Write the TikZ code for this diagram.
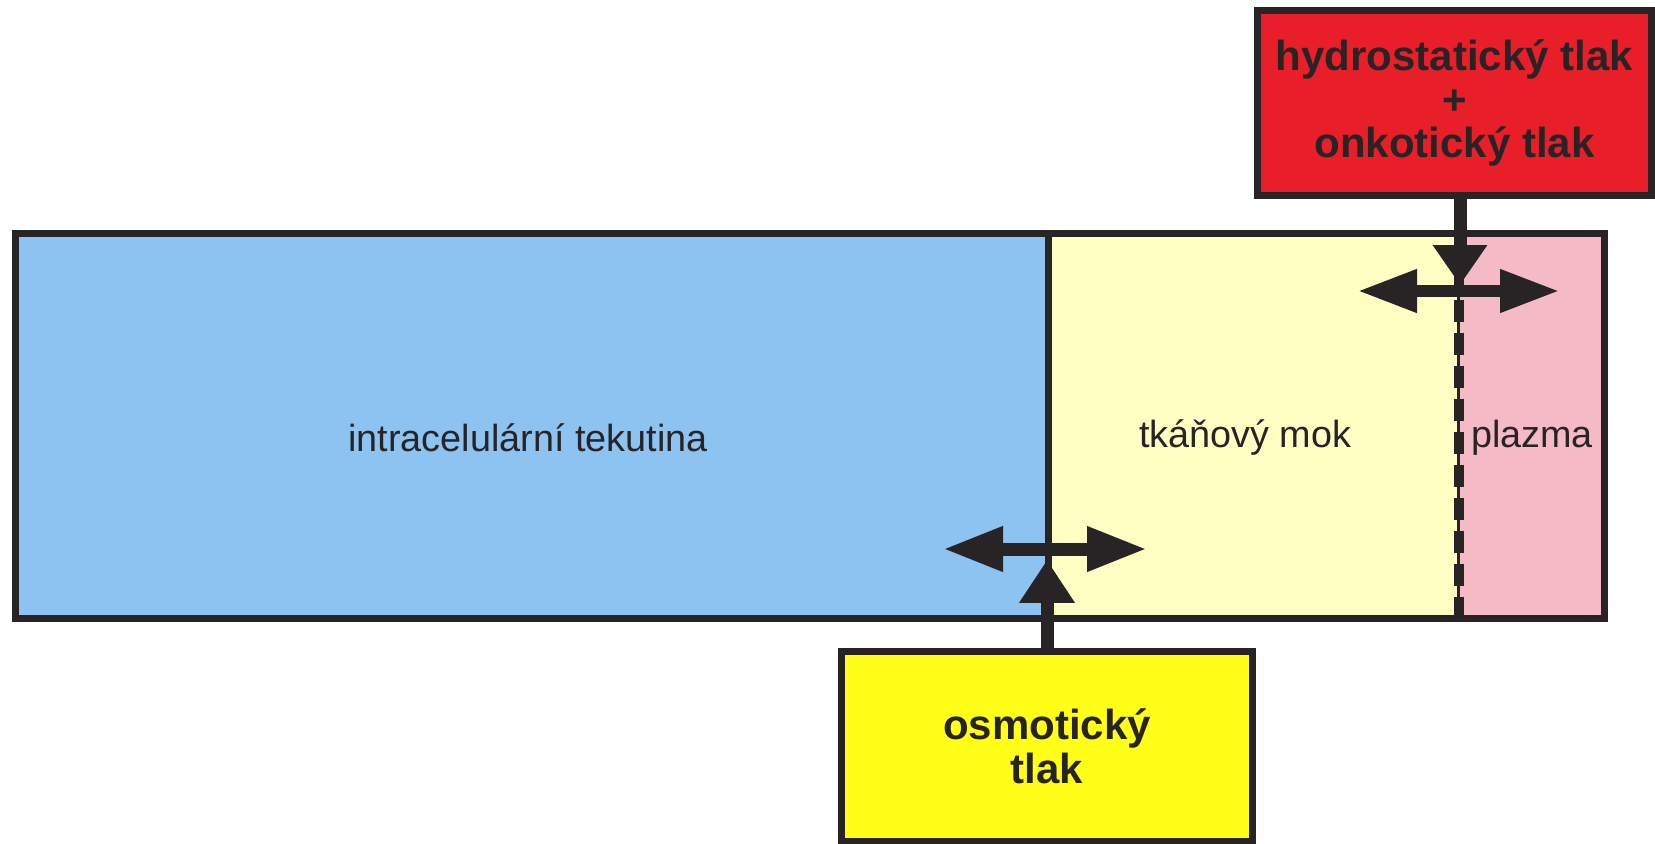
\documentclass[tikz,border=0pt]{standalone}
\usepackage{fontspec}
\setmainfont{Liberation Sans}
\usetikzlibrary{arrows.meta}

\definecolor{bunka}{RGB}{140,195,240}
\definecolor{mok}{RGB}{255,255,196}
\definecolor{plazma}{RGB}{244,186,198}
\definecolor{hydro}{RGB}{232,30,40}
\definecolor{osmo}{RGB}{255,255,24}
\definecolor{cara}{RGB}{40,36,38}

\begin{document}
\begin{tikzpicture}[x=0.02cm,y=-0.02cm,
    oblast/.style={rectangle,inner sep=0pt,minimum height=7.68cm},
    tlakbox/.style={rectangle,draw=cara,line width=0.14cm,align=center,
        font=\fontsize{23.9}{25}\selectfont\bfseries,text=cara},
    popis/.style={font=\fontsize{21.5}{24}\selectfont,text=cara},
    tok/.style={draw=cara,line width=0.26cm}]
\useasboundingbox (0,0) rectangle (1655,844);
%The three fluid spaces, filled only; the borders come later
\node[oblast,fill=bunka,minimum width=20.64cm] (bunka) at (532,426) {};
\node[oblast,fill=mok,minimum width=8.22cm] (mok) at (1253.5,426) {};
\node[oblast,fill=plazma,minimum width=2.9cm] (plazma) at (1531.5,426) {};
% labels of the spaces
\node[popis] (tekutina) at (528,438) {intracelulární tekutina};
\node[popis] (mokText) at (1245,438) {tkáňový mok};
\node[popis] (plazmaText) at (1532,438) {plazma};
%Outline, cell membrane (solid) and capillary wall (dashed)
\draw[cara,line width=0.14cm] (bunka.north west) rectangle (plazma.south east);
\draw[cara,line width=0.14cm] (bunka.north east) -- (bunka.south east);
\draw[cara,line width=0.06cm] (plazma.north west) -- (plazma.south west);
\draw[cara,line width=0.2cm,dash pattern=on 0.44cm off 0.22cm] (plazma.north west) -- (plazma.south west);
%The two pressure boxes
\node[tlakbox,fill=hydro,minimum width=7.9cm,minimum height=3.72cm] (hydro) at (1454.5,103)
    {hydrostatický tlak\\+\\onkotický tlak};
\node[tlakbox,fill=osmo,minimum width=8.22cm,minimum height=3.82cm] (osmo) at (1047,746.5)
    {osmotický\\tlak};
% end points of the arrows
\coordinate (hydroTip) at (1460,285);
\coordinate (osmoTip) at (1047,560);
\coordinate (hornL) at (1357,291);
\coordinate (hornP) at (1560,291);
\coordinate (dolL) at (943,549);
\coordinate (dolP) at (1147,549);
%Pressure arrows into the membranes
\draw[tok,-{Triangle[length=0.8cm,width=1.04cm]}] (hydro.south -| hydroTip) -- (hydroTip);
\draw[tok,-{Triangle[length=0.86cm,width=1.06cm]}] (osmo.north) -- (osmoTip);
% water moves both ways
\draw[tok,{Triangle[length=1.2cm,width=0.8cm]}-{Triangle[length=1.2cm,width=0.8cm]}] (hornL) -- (hornP);
\draw[tok,{Triangle[length=1.2cm,width=0.84cm]}-{Triangle[length=1.2cm,width=0.84cm]}] (dolL) -- (dolP);
\end{tikzpicture}
\end{document}
